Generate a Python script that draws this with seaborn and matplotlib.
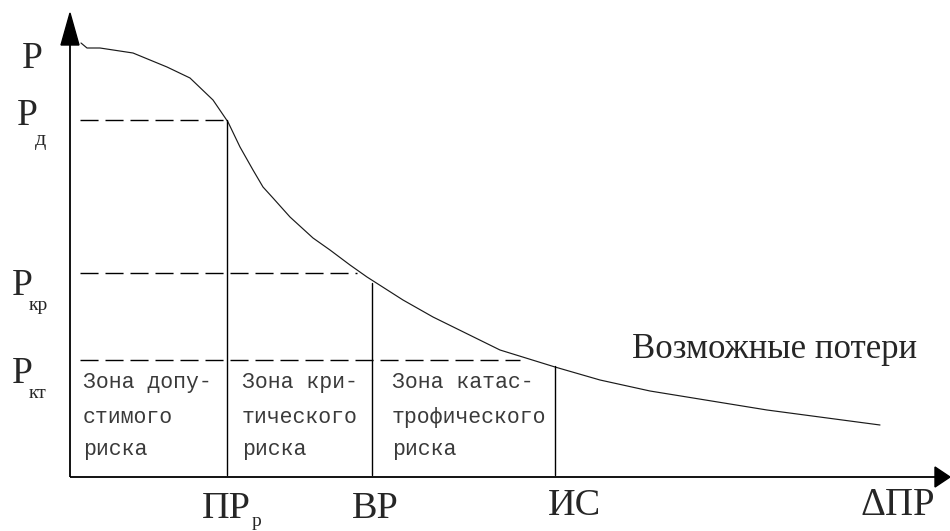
import matplotlib
matplotlib.use("Agg")
import matplotlib.pyplot as plt
from matplotlib.patches import Polygon
import seaborn as sns
import pandas as pd

# ---- data (arbitrary units, origin at axes corner) ----
loss_x = [11, 17, 30, 63, 97, 120, 143, 158, 170, 183, 193, 203, 220, 243,
          260, 280, 297, 333, 363, 430, 485, 530, 580, 697, 810]
prob_y = [434, 429, 429, 424, 410, 399, 377, 355, 330, 307, 290, 279, 260,
          239, 227, 212, 200, 177, 160, 127, 110, 97, 86, 67, 52]

level_names = ["д", "кр", "кт"]
level_vals = [357, 204, 117]
level_ends = [158, 287, 450]

zone_x = [157, 302, 485]
zone_top = [357, 194, 111]
zone_labels = ["ПР", "ВР", "ИС"]

zone_texts = [["Зона допу-", "стимого", "риска"],
              ["Зона кри-", "тического", "риска"],
              ["Зона катас-", "трофического", "риска"]]

curve_label = "Возможные потери"
x_axis_label = "ΔПР"
y_axis_label = "P"

df = pd.DataFrame({"x": loss_x, "y": prob_y})

sns.set_style("white")
plt.rcParams["font.family"] = ["Liberation Serif", "DejaVu Serif"]

fig = plt.figure(figsize=(9.5, 5.31), dpi=100)
W, H = 950, 531
ax = fig.add_axes([70 / W, (H - 477) / H, 880 / W, 466 / H])
ax.set_xlim(0, 880)
ax.set_ylim(0, 466)
for s in ax.spines.values():
    s.set_visible(False)
ax.set_xticks([])
ax.set_yticks([])
ax.patch.set_alpha(0)

# axes with arrows
ax.plot([0, 0], [0, 440], color="black", lw=1.3, clip_on=False, solid_capstyle="butt")
ax.plot([0, 870], [0, 0], color="black", lw=1.3, clip_on=False, solid_capstyle="butt")
ax.add_patch(Polygon([[0, 464], [-9, 432], [9, 432]], closed=True,
                     color="black", clip_on=False))
ax.add_patch(Polygon([[880, 0], [865, 10], [865, -10]], closed=True,
                     color="black", clip_on=False))

# curve
sns.lineplot(data=df, x="x", y="y", ax=ax, color="#1a1a1a", lw=0.85,
             estimator=None, sort=False, legend=False)
ax.set_xlabel("")
ax.set_ylabel("")

# dashed levels
for v, e in zip(level_vals, level_ends):
    ax.plot([10, e], [v, v], color="black", lw=1.0, dashes=(13, 5))

# vertical zone borders
for x, t in zip(zone_x, zone_top):
    ax.plot([x, x], [2, t], color="black", lw=1.0)

# left labels
ax.text(-48, 409, y_axis_label, fontsize=27, ha="left", va="baseline", clip_on=False)
P_left = [-53, -58, -58]
P_base = [352, 182, 94]
sub_dx = [-35, -41, -41]
sub_base = [332, 167, 79]
sub_size = [16, 14, 14]
for name, pl, pb, sx, sb, ss in zip(level_names, P_left, P_base, sub_dx, sub_base, sub_size):
    ax.text(pl, pb, "P", fontsize=27, ha="left", va="baseline", clip_on=False)
    ax.text(sx, sb, name, fontsize=ss, ha="left", va="baseline", clip_on=False)

# bottom labels
bot_left = [132, 282, 478]
bot_base = [-41, -41, -38]
for lab, bl, bb in zip(zone_labels, bot_left, bot_base):
    ax.text(bl, bb, lab, fontsize=27.5, ha="left", va="baseline", clip_on=False)
ax.text(182, -49, "р", fontsize=14, ha="left", va="baseline", clip_on=False)
ax.text(790, -38, x_axis_label, fontsize=28, ha="left", va="baseline", clip_on=False)

# curve label
ax.text(562, 119, curve_label, fontsize=25, ha="left", va="baseline")

# zone texts
zone_left = [13, 172, 322]
line_base = [89, 54, 22]
for zl, lines in zip(zone_left, zone_texts):
    for ln, lb in zip(lines, line_base):
        ax.text(zl, lb, ln, fontsize=15.5, family=["Liberation Mono", "DejaVu Sans Mono"],
                color="#3a3a3a", ha="left", va="baseline")

fig.savefig("out.png", dpi=100, facecolor="white")
